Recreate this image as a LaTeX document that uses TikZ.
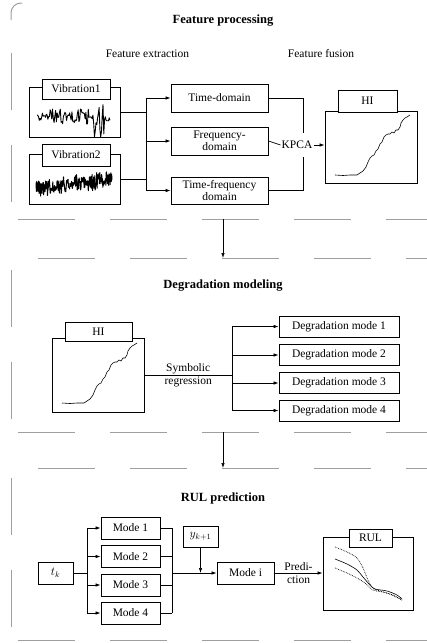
\documentclass[tikz,border=0pt]{standalone}
\usepackage{fontspec}
\setmainfont{Liberation Serif}
\usetikzlibrary{arrows.meta}

\newcommand{\figfont}{\fontsize{11.5}{12.5}\selectfont}
\newcommand{\headfont}{\fontsize{12.5}{14}\selectfont\bfseries}

\tikzset{
  box/.style={draw, line width=0.8pt, align=center, inner sep=1pt, font=\figfont},
  tag/.style={box, fill=white},
  panel/.style={draw, line width=0.8pt},
  arr/.style={-{Latex[length=5pt,width=3.5pt]}, line width=0.7pt},
  wire/.style={line width=0.7pt},
  frame/.style={draw=gray!75, line width=1pt, dash pattern=on 57pt off 35pt},
  head/.style={font=\headfont},
  note/.style={font=\figfont, inner sep=1pt, align=center},
  hicurve/.pic={
    \draw[line width=0.6pt] (0,0) -- (8,0.5) -- (15,0) -- (22,0) -- (25,-2) -- (28,-4)
      -- (31,-8) -- (33,-13) -- (35,-17) -- (37,-19) -- (39,-20) -- (41,-24) -- (43,-26)
      -- (45,-31) -- (47,-33) -- (49,-38) -- (51,-40) -- (53,-41) -- (55,-41) -- (57,-43)
      -- (59,-42) -- (61,-45) -- (63,-45) -- (65,-48) -- (66,-52) -- (68,-55) -- (70,-57)
      -- (72,-58) -- (75,-60);
  }
}

\begin{document}
\begin{tikzpicture}[x=1pt, y=-1pt]
\useasboundingbox (0,0) rectangle (427,643);

% dashed frames
\draw[gray!75, line width=1pt, rounded corners=10pt] (11,20) -- (11,3) -- (22,3);
\draw[frame] (11,53) -- (11,219);
\draw[frame] (18,219) -- (430,219);
\draw[frame] (38,258) -- (430,258);
\draw[frame] (11,270) -- (11,432);
\draw[frame] (18,432) -- (430,432);
\draw[frame] (38,468) -- (430,468);
\draw[frame] (11,478) -- (11,640);
\draw[frame] (18,640) -- (430,640);

% feature processing
\node[head] (t1) at (223,21) {Feature processing};
\node[note] (fe) at (147.5,54) {Feature extraction};
\node[note] (ff) at (321,54) {Feature fusion};

\node[panel, minimum width=91pt, minimum height=50pt] (vib1) at (74.5,112) {};
\node[panel, minimum width=91pt, minimum height=50pt] (vib2) at (74.5,179) {};
\pgfmathsetseed{23}
\draw[line width=0.9pt, line join=round] plot[domain=0:73, samples=95]
  ({37+\x}, {117+(4+4*(\x>12)*(\x<52)+16*(\x>56)*(\x<67))*rand});
\draw[line width=1pt, line join=round] plot[domain=0:76, samples=200]
  ({36+\x}, {188-0.12*\x+(5+5*rnd)*rand});
\node[tag, minimum width=68pt, minimum height=20pt] (vib1tag) at (76,89) {Vibration1};
\node[tag, minimum width=68pt, minimum height=22pt] (vib2tag) at (76,155) {Vibration2};

\node[box, minimum width=97pt, minimum height=28pt] (td) at (219.5,98) {Time-domain};
\node[box, minimum width=97pt, minimum height=28pt] (fd) at (219.5,141) {Frequency-\\domain};
\node[box, minimum width=97pt, minimum height=27pt] (tfd) at (219.5,190.5) {Time-frequency\\domain};
\node[note] (kpca) at (297,145) {KPCA};

\node[panel, minimum width=92pt, minimum height=72pt] (hi1) at (371,147) {};
\pic at (335,175) {hicurve};
\node[tag, minimum width=59pt, minimum height=22pt] (hi1tag) at (367.5,101) {HI};

\coordinate (sp1) at (146,141);
\coordinate (mgt) at (303,133);
\coordinate (mgb) at (303,157);
\draw[wire] (vib1.east) -- (vib1.east -| sp1);
\draw[wire] (vib2.east) -- (vib2.east -| sp1);
\draw[wire] (td.west -| sp1) -- (tfd.west -| sp1);
\foreach \n in {td,fd,tfd}
  \draw[arr] (\n.west -| sp1) -- (\n.west);
\draw[wire] (td.east) -| (mgt);
\draw[wire] (tfd.east) -| (mgb);
\draw[wire] (fd.east) -- (kpca.west);
\draw[arr] (kpca.east) -- (kpca.east -| hi1.west);

\coordinate (f1b) at (223,219);
\coordinate (f2t) at (223,258);
\draw[arr] (f1b) -- (f2t);

% degradation modeling
\node[head] (t2) at (223,286) {Degradation modeling};
\node[panel, minimum width=92pt, minimum height=74pt] (hi2) at (98,375) {};
\pic at (62,403) {hicurve};
\node[tag, minimum width=67pt, minimum height=19pt] (hi2tag) at (98.5,331.5) {HI};
\foreach \i/\y in {1/326.5,2/355,3/383,4/410.5}
  \node[box, minimum width=120pt, minimum height=21pt] (dm\i) at (339,\y) {Degradation mode \i};

\coordinate (sp2) at (232,375);
\draw[wire] (hi2.east) -- (sp2) node[note, midway] {Symbolic\\regression};
\draw[wire] (dm1.west -| sp2) -- (dm4.west -| sp2);
\foreach \i in {1,...,4}
  \draw[arr] (dm\i.west -| sp2) -- (dm\i.west);

\coordinate (f2b) at (223,432);
\coordinate (f3t) at (223,468);
\draw[arr] (f2b) -- (f3t);

% RUL prediction
\node[head] (t3) at (223,498) {RUL prediction};
\node[box, minimum width=35pt, minimum height=22pt] (tk) at (55.5,573) {$t_k$};
\foreach \i/\y in {1/528,2/556.5,3/585,4/613}
  \node[box, minimum width=59pt, minimum height=22pt] (m\i) at (130.5,\y) {Mode \i};
\node[box, minimum width=57pt, minimum height=22pt] (mi) at (245.5,573) {Mode i};
\node[box, minimum width=35pt, minimum height=21pt] (yk) at (200.5,536.5) {$y_{k+1}$};

\node[panel, minimum width=90pt, minimum height=73pt] (rul) at (368,573.5) {};
\draw[line width=0.7pt, densely dotted] plot[smooth] coordinates
  {(335,547) (347,552) (357,558) (363,568) (368,580) (373,588) (383,592) (393,595) (402,600)};
\draw[line width=0.6pt] plot[smooth] coordinates
  {(335,559) (347,564) (357,570) (363,577) (370,585) (375,589) (387,591) (397,595) (402,599)};
\draw[line width=0.7pt, densely dotted] plot[smooth] coordinates
  {(335,568) (347,573) (357,578) (365,583) (373,590) (387,593) (402,600)};
\node[tag, minimum width=43pt, minimum height=18pt] (rultag) at (370.5,538) {RUL};

\coordinate (sp3) at (87,573);
\coordinate (mg3) at (172,573);
\draw[wire] (tk.east) -- (sp3);
\draw[wire] (m1.west -| sp3) -- (m4.west -| sp3);
\draw[wire] (m1.east -| mg3) -- (m4.east -| mg3);
\foreach \i in {1,...,4}{
  \draw[arr] (m\i.west -| sp3) -- (m\i.west);
  \draw[wire] (m\i.east) -- (m\i.east -| mg3);
}
\draw[arr] (mg3) -- (mi.west);
\draw[arr] (yk.south) -- (yk.south |- mi.west);
\draw[arr] (mi.east) -- (mi.east -| rul.west) node[note, midway] {Predi-\\ction};
\end{tikzpicture}
\end{document}
